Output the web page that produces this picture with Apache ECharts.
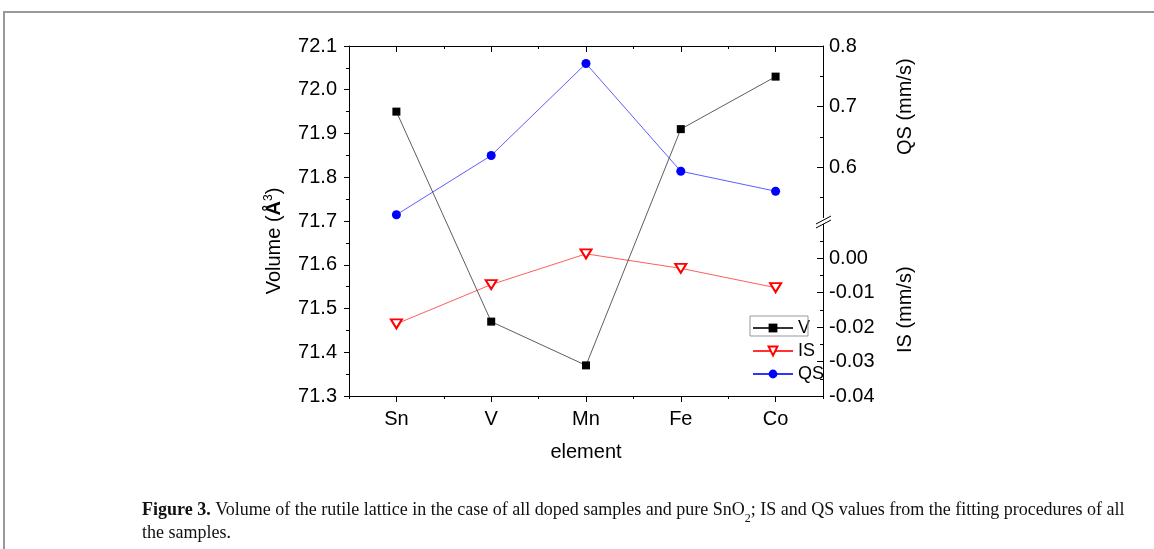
<!DOCTYPE html>
<html>
<head>
<meta charset="utf-8">
<script src="https://cdn.jsdelivr.net/npm/echarts@6/dist/echarts.min.js"></script>
<style>
  html, body { margin: 0; padding: 0; background: #fff; }
  #chart { width: 1154px; height: 549px; }
</style>
</head>
<body>
<div id="chart"></div>
<script>
// data
let elements = ['Sn', 'V', 'Mn', 'Fe', 'Co'];
let volume = [71.95, 71.47, 71.37, 71.91, 72.03];
let isValues = [-0.0191, -0.0077, 0.0012, -0.0030, -0.0086];
let qsValues = [0.521, 0.619, 0.771, 0.593, 0.560];

let volTicks = [71.3, 72.1, 0.1];
let qsMajor = [0.6, 0.7, 0.8];
let qsMinor = [0.55, 0.65, 0.75];
let isMajor = [0, -0.01, -0.02, -0.03, -0.04];
let isMinor = [0.005, -0.005, -0.015, -0.025, -0.035];

let font = 'Liberation Sans, Arial, sans-serif';
let lbl = { color: '#000', fontFamily: font, fontSize: 20 };
let line = { show: true, lineStyle: { color: '#000', width: 1 } };
let tick = (len, inside, extra) => Object.assign({ show: true, inside: inside, length: len, lineStyle: { color: '#000' } }, extra || {});

// plot box in px
let L = 349, T = 46, W = 474, H = 350;

let hiddenX = (grid) => ({
    type: 'category', data: elements, gridIndex: grid, show: false
});

let option = {
    animation: false,
    backgroundColor: '#fff',
    title: {
        left: 137, top: 494,
        text: '{b|Figure 3.} Volume of the rutile lattice in the case of all doped samples and pure SnO{sub|2}; IS and QS values from the fitting procedures of all\nthe samples.',
        textStyle: {
            fontFamily: 'Liberation Serif, serif', fontSize: 18, fontWeight: 'normal',
            color: '#111', lineHeight: 23,
            rich: {
                b: { fontFamily: 'Liberation Serif, serif', fontSize: 18, fontWeight: 'bold', color: '#111' },
                sub: { fontFamily: 'Liberation Serif, serif', fontSize: 12, verticalAlign: 'bottom', padding: [0, 0, -3, 0], color: '#111' }
            }
        }
    },
    legend: {
        orient: 'vertical', left: 752, top: 319, padding: 0,
        itemWidth: 40, itemHeight: 11, itemGap: 5,
        textStyle: { color: '#000', fontFamily: font, fontSize: 18 },
        data: ['V', 'IS', 'QS']
    },
    grid: [
        { left: L, top: T, width: W, height: H },
        { left: L, top: T, width: W, height: 181.5 },
        { left: L, top: 223.5, width: W, height: 172.5 }
    ],
    xAxis: [
        {
            type: 'category', data: elements, gridIndex: 0, position: 'bottom',
            name: 'element', nameLocation: 'middle', nameGap: 46,
            nameTextStyle: lbl,
            axisLine: line,
            axisTick: tick(6, false, { alignWithLabel: true }),
            axisLabel: Object.assign({ margin: 13 }, lbl)
        },
        {
            type: 'category', data: elements, gridIndex: 0, position: 'bottom',
            axisLine: { show: false }, axisLabel: { show: false },
            axisTick: tick(3, false)
        },
        {
            type: 'category', data: elements, gridIndex: 0, position: 'top',
            axisLine: line, axisLabel: { show: false },
            axisTick: tick(6, true, { alignWithLabel: true })
        },
        {
            type: 'category', data: elements, gridIndex: 0, position: 'top',
            axisLine: { show: false }, axisLabel: { show: false },
            axisTick: tick(3, true)
        },
        hiddenX(1),
        hiddenX(2)
    ],
    yAxis: [
        {
            type: 'value', gridIndex: 0, position: 'left',
            min: volTicks[0], max: volTicks[1], interval: volTicks[2],
            name: 'Volume ({ang|Å}{sup|3})', nameLocation: 'middle', nameGap: 64, nameRotate: 90,
            nameTextStyle: Object.assign({
                padding: [0, 40, 0, 0],
                rich: {
                    ang: { fontFamily: font, fontSize: 20, fontWeight: 'bold', color: '#000' },
                    sup: { fontFamily: font, fontSize: 12, color: '#000', verticalAlign: 'top', padding: [0, 0, 10, 0] }
                }
            }, lbl),
            axisLine: line,
            axisTick: tick(5, false),
            minorTick: { show: true, splitNumber: 2, length: 3, lineStyle: { color: '#000' } },
            splitLine: { show: false },
            axisLabel: Object.assign({ margin: 12, formatter: (v) => v.toFixed(1) }, lbl)
        },
        {
            type: 'value', gridIndex: 1, position: 'right',
            min: 0.5, max: 0.8,
            name: 'QS (mm/s)', nameLocation: 'middle', nameGap: 72, nameRotate: 90,
            nameTextStyle: Object.assign({ padding: [0, 0, 0, 60] }, lbl),
            axisLine: line,
            axisTick: tick(6, true, { customValues: qsMajor }),
            splitLine: { show: false },
            axisLabel: Object.assign({ margin: 6, customValues: qsMajor, formatter: (v) => v.toFixed(1) }, lbl)
        },
        {
            type: 'value', gridIndex: 1, position: 'right',
            min: 0.5, max: 0.8,
            axisLine: { show: false }, axisLabel: { show: false }, splitLine: { show: false },
            axisTick: tick(3, true, { customValues: qsMinor })
        },
        {
            type: 'value', gridIndex: 2, position: 'right',
            min: -0.04, max: 0.01,
            name: 'IS (mm/s)', nameLocation: 'middle', nameGap: 72, nameRotate: 90,
            nameTextStyle: lbl,
            axisLine: line,
            axisTick: tick(6, true, { customValues: isMajor }),
            splitLine: { show: false },
            axisLabel: Object.assign({ margin: 6, customValues: isMajor, formatter: (v) => (Math.abs(v) < 1e-9 ? 0 : v).toFixed(2) }, lbl)
        },
        {
            type: 'value', gridIndex: 2, position: 'right',
            min: -0.04, max: 0.01,
            axisLine: { show: false }, axisLabel: { show: false }, splitLine: { show: false },
            axisTick: tick(3, true, { customValues: isMinor })
        }
    ],
    series: [
        {
            name: 'V', type: 'line', xAxisIndex: 0, yAxisIndex: 0,
            data: volume,
            symbol: 'rect', symbolSize: 8,
            itemStyle: { color: '#000' },
            lineStyle: { color: '#333', width: 0.8 },
            z: 3
        },
        {
            name: 'IS', type: 'line', xAxisIndex: 5, yAxisIndex: 3,
            data: isValues,
            symbol: 'emptyTriangle', symbolRotate: 180, symbolSize: [11, 9],
            itemStyle: { color: '#ff0000', borderWidth: 1 },
            lineStyle: { color: '#ff3333', width: 0.8 },
            z: 2
        },
        {
            name: 'QS', type: 'line', xAxisIndex: 4, yAxisIndex: 1,
            data: qsValues,
            symbol: 'circle', symbolSize: 9,
            itemStyle: { color: '#0000ff' },
            lineStyle: { color: '#3333ff', width: 0.8 },
            z: 2
        }
    ],
    graphic: [
        // page frame
        { type: 'rect', shape: { x: 4, y: 12, width: 1200, height: 600 },
          style: { fill: 'none', stroke: '#999', lineWidth: 2 }, silent: true },
        // axis break marks on the right axis
        { type: 'rect', shape: { x: 820, y: 218, width: 6, height: 6 },
          style: { fill: '#fff' }, z: 100 },
        { type: 'line', shape: { x1: 816, y1: 224, x2: 831, y2: 216 },
          style: { stroke: '#000', lineWidth: 1 }, z: 101 },
        { type: 'line', shape: { x1: 816, y1: 228, x2: 831, y2: 220 },
          style: { stroke: '#000', lineWidth: 1 }, z: 101 },
        // frame around the V legend entry
        { type: 'rect', shape: { x: 750, y: 316, width: 58, height: 20 },
          style: { fill: 'none', stroke: '#999', lineWidth: 1 }, z: 100 }
    ]
};

var chart = echarts.init(document.getElementById('chart'));
chart.setOption(option);
</script>
</body>
</html>
